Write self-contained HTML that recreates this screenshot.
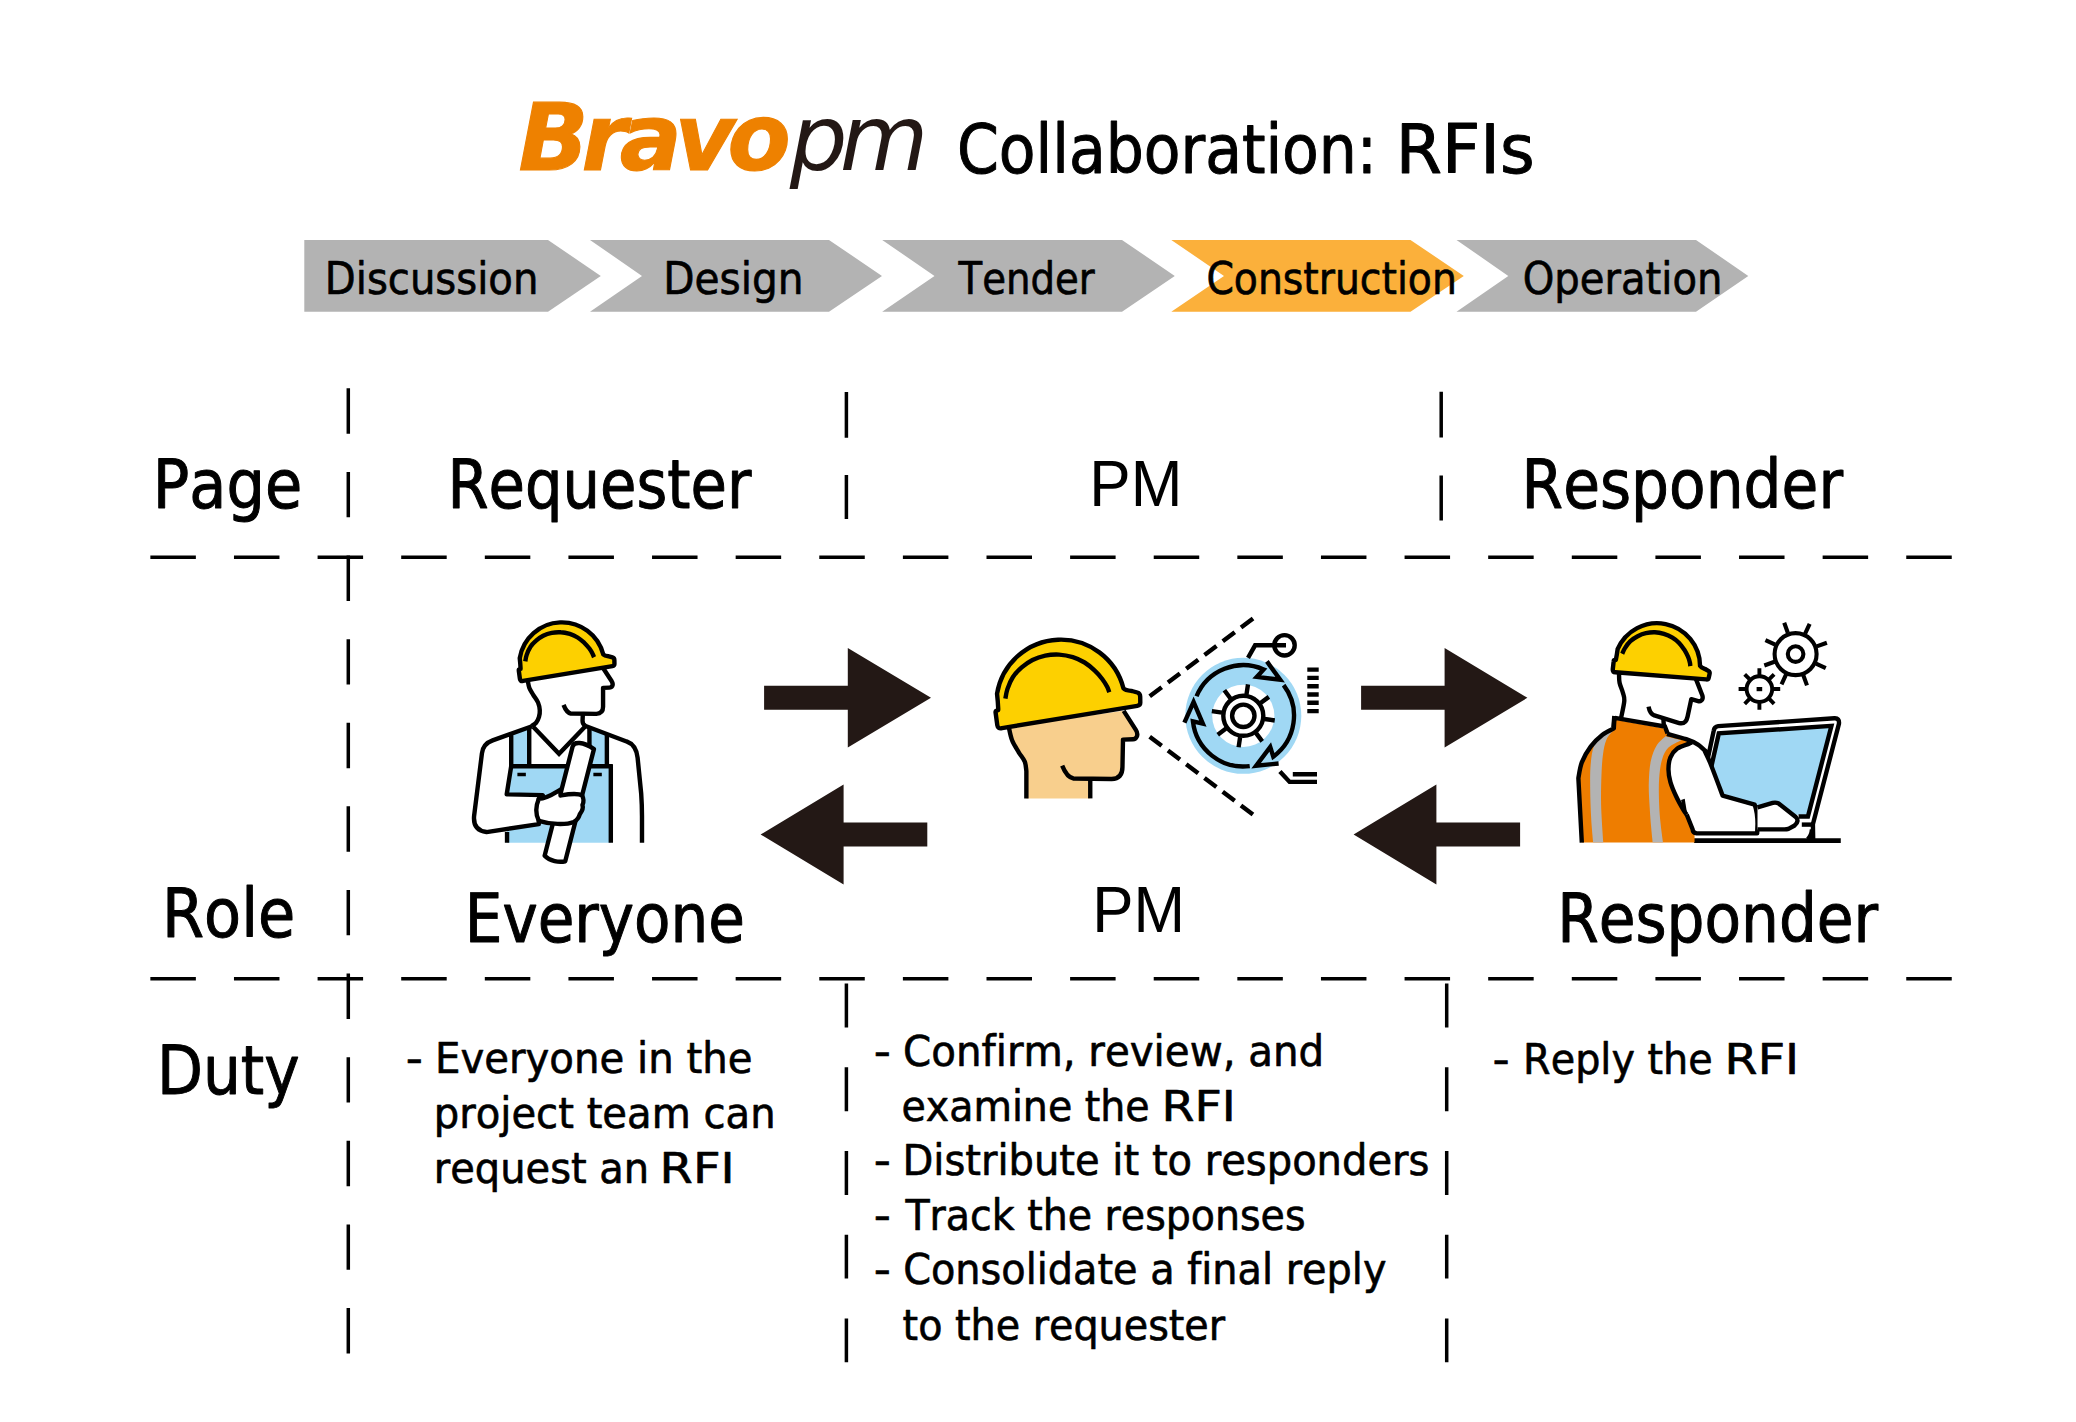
<!DOCTYPE html>
<html lang="en"><head><meta charset="utf-8"><title>Bravopm Collaboration: RFIs</title>
<style>
html,body{margin:0;padding:0;background:#fff;}
body{width:2076px;height:1422px;overflow:hidden;font-family:"DejaVu Sans Condensed","DejaVu Sans","Liberation Sans",sans-serif;}
svg{display:block}
text{font-kerning:none;white-space:pre;font-variant-ligatures:none}
</style></head><body>
<svg width="2076" height="1422" viewBox="0 0 2076 1422">
<rect width="2076" height="1422" fill="#fff"/>
<polygon points="304.30,240.00 548.00,240.00 600.80,275.90 548.00,311.80 304.30,311.80" fill="#b3b3b3"/>
<polygon points="590.00,240.00 829.00,240.00 882.00,275.90 829.00,311.80 590.00,311.80 642.00,275.90" fill="#b3b3b3"/>
<polygon points="882.20,240.00 1122.00,240.00 1174.80,275.90 1122.00,311.80 882.20,311.80 934.50,275.90" fill="#b3b3b3"/>
<polygon points="1456.50,240.00 1696.00,240.00 1748.30,275.90 1696.00,311.80 1456.50,311.80 1508.30,275.90" fill="#b3b3b3"/>
<polygon points="1171.30,240.00 1410.50,240.00 1463.80,275.90 1410.50,311.80 1171.30,311.80 1224.00,275.90" fill="#fbb03b"/>
<text x="324.80" y="294.30" font-family='"DejaVu Sans Condensed","DejaVu Sans","Liberation Sans",sans-serif' font-stretch="condensed" font-weight="normal" font-style="normal" font-size="44" textLength="213.60" lengthAdjust="spacingAndGlyphs" fill="#000" stroke="#000" stroke-width="0.62" stroke-linejoin="round">Discussion</text>
<text x="663.31" y="294.30" font-family='"DejaVu Sans Condensed","DejaVu Sans","Liberation Sans",sans-serif' font-stretch="condensed" font-weight="normal" font-style="normal" font-size="44" textLength="140.33" lengthAdjust="spacingAndGlyphs" fill="#000" stroke="#000" stroke-width="0.62" stroke-linejoin="round">Design</text>
<text x="958.58" y="294.30" font-family='"DejaVu Sans Condensed","DejaVu Sans","Liberation Sans",sans-serif' font-stretch="condensed" font-weight="normal" font-style="normal" font-size="44" textLength="136.15" lengthAdjust="spacingAndGlyphs" fill="#000" stroke="#000" stroke-width="0.62" stroke-linejoin="round">Tender</text>
<text x="1206.38" y="294.30" font-family='"DejaVu Sans Condensed","DejaVu Sans","Liberation Sans",sans-serif' font-stretch="condensed" font-weight="normal" font-style="normal" font-size="44" textLength="250.45" lengthAdjust="spacingAndGlyphs" fill="#000" stroke="#000" stroke-width="0.62" stroke-linejoin="round">Construction</text>
<text x="1522.74" y="294.30" font-family='"DejaVu Sans Condensed","DejaVu Sans","Liberation Sans",sans-serif' font-stretch="condensed" font-weight="normal" font-style="normal" font-size="44" textLength="199.66" lengthAdjust="spacingAndGlyphs" fill="#000" stroke="#000" stroke-width="0.62" stroke-linejoin="round">Operation</text>
<text x="518.47" y="169.80" font-family='"DejaVu Sans","Liberation Sans",sans-serif' font-weight="bold" font-style="oblique" font-size="92" letter-spacing="-7.10" fill="#ee8100" stroke="#ee8100" stroke-width="1.10">Bravo</text>
<text x="789.87" y="169.80" font-family='"DejaVu Sans","Liberation Sans",sans-serif' font-weight="normal" font-style="oblique" font-size="91" letter-spacing="-7.85" fill="#231815">pm</text>
<text x="956.91" y="172.70" font-family='"DejaVu Sans Condensed","DejaVu Sans","Liberation Sans",sans-serif' font-stretch="condensed" font-weight="normal" font-style="normal" font-size="67.5" textLength="420.19" lengthAdjust="spacingAndGlyphs" fill="#000" stroke="#000" stroke-width="0.95" stroke-linejoin="round">Collaboration:</text>
<text x="1395.86" y="172.70" font-family='"DejaVu Sans Condensed","DejaVu Sans","Liberation Sans",sans-serif' font-stretch="condensed" font-weight="normal" font-style="normal" font-size="67.5" textLength="138.79" lengthAdjust="spacingAndGlyphs" fill="#000" stroke="#000" stroke-width="0.95" stroke-linejoin="round">RFIs</text>
<path d="M150.36 557.2h45.5M233.97 557.2h45.5M317.59 557.2h45.5M401.20 557.2h45.5M484.82 557.2h45.5M568.43 557.2h45.5M652.04 557.2h45.5M735.66 557.2h45.5M819.27 557.2h45.5M902.89 557.2h45.5M986.50 557.2h45.5M1070.11 557.2h45.5M1153.73 557.2h45.5M1237.34 557.2h45.5M1320.96 557.2h45.5M1404.57 557.2h45.5M1488.18 557.2h45.5M1571.80 557.2h45.5M1655.41 557.2h45.5M1739.03 557.2h45.5M1822.64 557.2h45.5M1906.25 557.2h45.5" stroke="#000" stroke-width="3.5" fill="none"/>
<path d="M150.36 978.7h45.5M233.97 978.7h45.5M317.59 978.7h45.5M401.20 978.7h45.5M484.82 978.7h45.5M568.43 978.7h45.5M652.04 978.7h45.5M735.66 978.7h45.5M819.27 978.7h45.5M902.89 978.7h45.5M986.50 978.7h45.5M1070.11 978.7h45.5M1153.73 978.7h45.5M1237.34 978.7h45.5M1320.96 978.7h45.5M1404.57 978.7h45.5M1488.18 978.7h45.5M1571.80 978.7h45.5M1655.41 978.7h45.5M1739.03 978.7h45.5M1822.64 978.7h45.5M1906.25 978.7h45.5" stroke="#000" stroke-width="3.5" fill="none"/>
<path d="M348.3 388.30v45.4M348.3 471.91v45.4M348.3 555.52v45.4M348.3 639.13v45.4M348.3 722.74v45.4M348.3 806.35v45.4M348.3 889.96v45.4M348.3 973.57v45.4M348.3 1057.18v45.4M348.3 1140.79v45.4M348.3 1224.40v45.4M348.3 1308.01v45.4" stroke="#000" stroke-width="3.5" fill="none"/>
<path d="M846.4,392.1v45.7M846.4,474.9v44M1441.2,391.7v45.7M1441.2,475.4v45.1" stroke="#000" stroke-width="3.5" fill="none"/>
<path d="M846.4 983.60v43.9M846.4 1067.30v43.9M846.4 1151.00v43.9M846.4 1234.70v43.9M846.4 1318.40v43.9" stroke="#000" stroke-width="3.5" fill="none"/>
<path d="M1446.7 983.60v43.9M1446.7 1067.30v43.9M1446.7 1151.00v43.9M1446.7 1234.70v43.9M1446.7 1318.40v43.9" stroke="#000" stroke-width="3.5" fill="none"/>
<text x="152.80" y="508.00" font-family='"DejaVu Sans Condensed","DejaVu Sans","Liberation Sans",sans-serif' font-stretch="condensed" font-weight="normal" font-style="normal" font-size="67.5" textLength="149.42" lengthAdjust="spacingAndGlyphs" fill="#000" stroke="#000" stroke-width="0.95" stroke-linejoin="round">Page</text>
<text x="447.44" y="508.25" font-family='"DejaVu Sans Condensed","DejaVu Sans","Liberation Sans",sans-serif' font-stretch="condensed" font-weight="normal" font-style="normal" font-size="67.5" textLength="303.78" lengthAdjust="spacingAndGlyphs" fill="#000" stroke="#000" stroke-width="0.95" stroke-linejoin="round">Requester</text>
<text x="1089.31" y="505.90" font-family='"Liberation Sans",sans-serif' font-weight="normal" font-style="normal" font-size="65.5" textLength="93.08" lengthAdjust="spacingAndGlyphs" fill="#000">PM</text>
<text x="1521.62" y="508.30" font-family='"DejaVu Sans Condensed","DejaVu Sans","Liberation Sans",sans-serif' font-stretch="condensed" font-weight="normal" font-style="normal" font-size="67.5" textLength="321.34" lengthAdjust="spacingAndGlyphs" fill="#000" stroke="#000" stroke-width="0.95" stroke-linejoin="round">Responder</text>
<text x="162.05" y="937.30" font-family='"DejaVu Sans Condensed","DejaVu Sans","Liberation Sans",sans-serif' font-stretch="condensed" font-weight="normal" font-style="normal" font-size="67.5" textLength="133.17" lengthAdjust="spacingAndGlyphs" fill="#000" stroke="#000" stroke-width="0.95" stroke-linejoin="round">Role</text>
<text x="464.75" y="942.00" font-family='"DejaVu Sans Condensed","DejaVu Sans","Liberation Sans",sans-serif' font-stretch="condensed" font-weight="normal" font-style="normal" font-size="68.5" textLength="280.22" lengthAdjust="spacingAndGlyphs" fill="#000" stroke="#000" stroke-width="0.96" stroke-linejoin="round">Everyone</text>
<text x="1092.23" y="931.90" font-family='"Liberation Sans",sans-serif' font-weight="normal" font-style="normal" font-size="65.5" textLength="92.74" lengthAdjust="spacingAndGlyphs" fill="#000">PM</text>
<text x="1557.13" y="941.90" font-family='"DejaVu Sans Condensed","DejaVu Sans","Liberation Sans",sans-serif' font-stretch="condensed" font-weight="normal" font-style="normal" font-size="68.5" textLength="321.04" lengthAdjust="spacingAndGlyphs" fill="#000" stroke="#000" stroke-width="0.96" stroke-linejoin="round">Responder</text>
<text x="157.04" y="1093.70" font-family='"DejaVu Sans Condensed","DejaVu Sans","Liberation Sans",sans-serif' font-stretch="condensed" font-weight="normal" font-style="normal" font-size="68" textLength="142.51" lengthAdjust="spacingAndGlyphs" fill="#000" stroke="#000" stroke-width="0.95" stroke-linejoin="round">Duty</text>
<text x="405.68" y="1072.50" font-family='"DejaVu Sans Condensed","DejaVu Sans","Liberation Sans",sans-serif' font-stretch="condensed" font-weight="normal" font-style="normal" font-size="42" textLength="17.14" lengthAdjust="spacingAndGlyphs" fill="#000" stroke="#000" stroke-width="0.59" stroke-linejoin="round">-</text>
<text x="435.05" y="1072.50" font-family='"DejaVu Sans Condensed","DejaVu Sans","Liberation Sans",sans-serif' font-stretch="condensed" font-weight="normal" font-style="normal" font-size="42" textLength="317.39" lengthAdjust="spacingAndGlyphs" fill="#000" stroke="#000" stroke-width="0.59" stroke-linejoin="round">Everyone in the</text>
<text x="433.76" y="1127.50" font-family='"DejaVu Sans Condensed","DejaVu Sans","Liberation Sans",sans-serif' font-stretch="condensed" font-weight="normal" font-style="normal" font-size="42" textLength="341.83" lengthAdjust="spacingAndGlyphs" fill="#000" stroke="#000" stroke-width="0.59" stroke-linejoin="round">project team can</text>
<text x="433.78" y="1182.80" font-family='"DejaVu Sans Condensed","DejaVu Sans","Liberation Sans",sans-serif' font-stretch="condensed" font-weight="normal" font-style="normal" font-size="42" textLength="215.41" lengthAdjust="spacingAndGlyphs" fill="#000" stroke="#000" stroke-width="0.59" stroke-linejoin="round">request an</text>
<text x="659.58" y="1182.80" font-family='"DejaVu Sans Condensed","DejaVu Sans","Liberation Sans",sans-serif' font-stretch="condensed" font-weight="normal" font-style="normal" font-size="42" textLength="75.10" lengthAdjust="spacingAndGlyphs" fill="#000" stroke="#000" stroke-width="0.59" stroke-linejoin="round">RFI</text>
<text x="873.78" y="1065.50" font-family='"DejaVu Sans Condensed","DejaVu Sans","Liberation Sans",sans-serif' font-stretch="condensed" font-weight="normal" font-style="normal" font-size="42" textLength="17.14" lengthAdjust="spacingAndGlyphs" fill="#000" stroke="#000" stroke-width="0.59" stroke-linejoin="round">-</text>
<text x="903.12" y="1065.50" font-family='"DejaVu Sans Condensed","DejaVu Sans","Liberation Sans",sans-serif' font-stretch="condensed" font-weight="normal" font-style="normal" font-size="42" textLength="421.03" lengthAdjust="spacingAndGlyphs" fill="#000" stroke="#000" stroke-width="0.59" stroke-linejoin="round">Confirm, review, and</text>
<text x="901.51" y="1120.80" font-family='"DejaVu Sans Condensed","DejaVu Sans","Liberation Sans",sans-serif' font-stretch="condensed" font-weight="normal" font-style="normal" font-size="42" textLength="248.09" lengthAdjust="spacingAndGlyphs" fill="#000" stroke="#000" stroke-width="0.59" stroke-linejoin="round">examine the</text>
<text x="1161.43" y="1120.80" font-family='"DejaVu Sans Condensed","DejaVu Sans","Liberation Sans",sans-serif' font-stretch="condensed" font-weight="normal" font-style="normal" font-size="42" textLength="74.42" lengthAdjust="spacingAndGlyphs" fill="#000" stroke="#000" stroke-width="0.59" stroke-linejoin="round">RFI</text>
<text x="873.78" y="1175.10" font-family='"DejaVu Sans Condensed","DejaVu Sans","Liberation Sans",sans-serif' font-stretch="condensed" font-weight="normal" font-style="normal" font-size="42" textLength="17.14" lengthAdjust="spacingAndGlyphs" fill="#000" stroke="#000" stroke-width="0.59" stroke-linejoin="round">-</text>
<text x="902.47" y="1175.10" font-family='"DejaVu Sans Condensed","DejaVu Sans","Liberation Sans",sans-serif' font-stretch="condensed" font-weight="normal" font-style="normal" font-size="42" textLength="526.89" lengthAdjust="spacingAndGlyphs" fill="#000" stroke="#000" stroke-width="0.59" stroke-linejoin="round">Distribute it to responders</text>
<text x="873.78" y="1229.70" font-family='"DejaVu Sans Condensed","DejaVu Sans","Liberation Sans",sans-serif' font-stretch="condensed" font-weight="normal" font-style="normal" font-size="42" textLength="17.14" lengthAdjust="spacingAndGlyphs" fill="#000" stroke="#000" stroke-width="0.59" stroke-linejoin="round">-</text>
<text x="905.49" y="1229.70" font-family='"DejaVu Sans Condensed","DejaVu Sans","Liberation Sans",sans-serif' font-stretch="condensed" font-weight="normal" font-style="normal" font-size="42" textLength="400.04" lengthAdjust="spacingAndGlyphs" fill="#000" stroke="#000" stroke-width="0.59" stroke-linejoin="round">Track the responses</text>
<text x="873.78" y="1284.40" font-family='"DejaVu Sans Condensed","DejaVu Sans","Liberation Sans",sans-serif' font-stretch="condensed" font-weight="normal" font-style="normal" font-size="42" textLength="17.14" lengthAdjust="spacingAndGlyphs" fill="#000" stroke="#000" stroke-width="0.59" stroke-linejoin="round">-</text>
<text x="903.15" y="1284.40" font-family='"DejaVu Sans Condensed","DejaVu Sans","Liberation Sans",sans-serif' font-stretch="condensed" font-weight="normal" font-style="normal" font-size="42" textLength="483.31" lengthAdjust="spacingAndGlyphs" fill="#000" stroke="#000" stroke-width="0.59" stroke-linejoin="round">Consolidate a final reply</text>
<text x="902.62" y="1340.00" font-family='"DejaVu Sans Condensed","DejaVu Sans","Liberation Sans",sans-serif' font-stretch="condensed" font-weight="normal" font-style="normal" font-size="42" textLength="322.45" lengthAdjust="spacingAndGlyphs" fill="#000" stroke="#000" stroke-width="0.59" stroke-linejoin="round">to the requester</text>
<text x="1492.58" y="1073.70" font-family='"DejaVu Sans Condensed","DejaVu Sans","Liberation Sans",sans-serif' font-stretch="condensed" font-weight="normal" font-style="normal" font-size="42" textLength="17.14" lengthAdjust="spacingAndGlyphs" fill="#000" stroke="#000" stroke-width="0.59" stroke-linejoin="round">-</text>
<text x="1523.10" y="1073.70" font-family='"DejaVu Sans Condensed","DejaVu Sans","Liberation Sans",sans-serif' font-stretch="condensed" font-weight="normal" font-style="normal" font-size="42" textLength="189.62" lengthAdjust="spacingAndGlyphs" fill="#000" stroke="#000" stroke-width="0.59" stroke-linejoin="round">Reply the</text>
<text x="1724.63" y="1073.70" font-family='"DejaVu Sans Condensed","DejaVu Sans","Liberation Sans",sans-serif' font-stretch="condensed" font-weight="normal" font-style="normal" font-size="42" textLength="74.42" lengthAdjust="spacingAndGlyphs" fill="#000" stroke="#000" stroke-width="0.59" stroke-linejoin="round">RFI</text>
<polygon points="764.1,685.75 847.8,685.75 847.8,648.0 931,697.8 847.8,747.5999999999999 847.8,709.8499999999999 764.1,709.8499999999999" fill="#231815"/>
<polygon points="927.3,822.45 843.6,822.45 843.6,784.4 760.6,834.5 843.6,884.6 843.6,846.55 927.3,846.55" fill="#231815"/>
<polygon points="1361.1,685.75 1444.6,685.75 1444.6,648.0 1527.4,697.8 1444.6,747.5999999999999 1444.6,709.8499999999999 1361.1,709.8499999999999" fill="#231815"/>
<polygon points="1520.1,822.45 1436.4,822.45 1436.4,784.4 1353.6,834.5 1436.4,884.6 1436.4,846.55 1520.1,846.55" fill="#231815"/>
<g transform="translate(460,715) scale(0.112549)" stroke-width="39.1" stroke-linejoin="round" stroke-linecap="butt" fill="none" stroke="none">
<path d="M455,166 L615,109 L615,455 L455,455Z M1150,110 L1305,169 L1305,455 L1150,455Z" fill="#a0d8f4" stroke="none"/>
<path d="M455,455 L1340,455 L1340,1135 L418,1135 L418,705Z" fill="#a0d8f4" stroke="none"/>
<path d="M615,112 L615,455 M1150,112 L1150,455 M1305,170 L1305,455 M440,455 L1357,455 M1340,440 L1340,1135 M418,1040 L418,1135" fill="none" stroke="#000"/>
<path d="M510,528 H585 M1185,528 H1260" fill="none" stroke="#000" stroke-width="30.2"/>
<path d="M640,100 L290,225 Q205,255 195,340 L125,900 Q115,1025 235,1040 L700,970 L700,745 L735,712 L415,705 L455,455 L455,168" fill="#fff" stroke="#000"/>
<path d="M1110,95 L1480,235 Q1565,265 1578,380 L1610,700 Q1617,800 1617,900 L1617,1135" fill="none" stroke="#000"/>
<path d="M650,105 L880,345 L1110,105" fill="none" stroke="#000" stroke-linejoin="miter"/>
<path d="M1000,282 C1012,235 1090,235 1190,303 L935,1300 C880,1312 800,1300 752,1250 Z" fill="#fff" stroke="#000"/>
<path d="M700,745 C780,742 830,700 893,663 L893,715 C950,705 1040,688 1085,715 Q1108,760 1088,800 Q1100,835 1065,880 Q1050,930 1010,950 C940,978 800,972 700,940 Q655,850 700,745 Z" fill="#fff" stroke="#000"/>
</g>
<g transform="translate(460,610) scale(0.096339)" stroke-width="45.7" stroke-linejoin="round" stroke-linecap="butt" fill="none" stroke="none">
<path d="M700.0,690.0C700.8,698.3 701.7,720.0 705.0,740.0 C708.3,760.0 710.8,786.7 720.0,810.0 C729.2,833.3 745.0,855.0 760.0,880.0 C775.0,905.0 798.7,933.3 810.0,960.0 C821.3,986.7 826.3,1015.0 828.0,1040.0 C829.7,1065.0 826.3,1088.3 820.0,1110.0 C813.7,1131.7 803.0,1154.5 790.0,1170.0 C777.0,1185.5 750.0,1197.5 742.0,1203.0" fill="none" stroke="#000"/>
<path d="M1457,560 L1490,610 L1575,740 Q1592,768 1580,790 Q1572,806 1550,806 L1485,808 L1485,1005 Q1485,1075 1415,1078 L1150,1075 C1110,1066 1092,1030 1075,985" fill="none" stroke="#000"/>
<path d="M1275,1080 L1272,1150 Q1272,1188 1302,1202" fill="none" stroke="#000"/>
</g>
<path d="M523.03,680.86Q520.32,681.65 519.93,678.94L518.80,670.61Q518.60,669.36 519.99,669.09L520.52,668.96L520.52,667.84C520.39,664.27 519.99,660.30 519.75,658.15A42.72,42.72 0 0 1 603.30,654.55C604.67,656.00 606.32,656.07 608.90,656.34L612.47,657.33Q614.45,657.86 614.38,660.30L614.45,664.13Q614.45,665.79 612.47,666.12Z" fill="#fdd000" stroke="#000" stroke-width="4.4" stroke-linejoin="round"/>
<path d="M525.3,661.4C525.5,660.3 525.8,657.4 526.6,655.1 C527.4,652.7 528.6,649.6 530.2,647.2 C531.7,644.8 533.9,642.6 536.1,640.7 C538.2,638.8 540.6,637.1 543.2,635.8 C545.8,634.5 548.7,633.5 551.7,632.9 C554.6,632.3 557.7,632.1 560.8,632.3 C563.8,632.4 567.0,633.1 569.8,633.9 C572.6,634.8 575.2,636.0 577.6,637.5 C580.0,639.0 582.2,640.9 584.2,642.7 C586.1,644.6 588.0,646.7 589.4,648.5 C590.8,650.4 591.9,652.3 592.6,653.8 C593.4,655.2 593.7,656.6 594.0,657.2" fill="none" stroke="#000" stroke-width="4.4"/>
<g transform="translate(460,610) scale(0.096339)" stroke-width="45.7" stroke-linejoin="round" stroke-linecap="butt" fill="none" stroke="none">
</g>
<g transform="translate(980,620) scale(0.133636)" stroke-width="32.9" stroke-linejoin="round" stroke-linecap="butt" fill="none" stroke="none">
<path d="M215.0,800.0C219.2,816.7 227.5,868.3 240.0,900.0 C252.5,931.7 274.2,963.3 290.0,990.0 C305.8,1016.7 325.5,1036.7 335.0,1060.0 C344.5,1083.3 345.0,1118.3 347.0,1130.0L347,1335 L825,1335 L825,1190 L985,1190 Q1066,1188 1066,1100 L1070,895 L1145,892 Q1165,892 1172,875 Q1185,850 1165,820 L1075,680 Z" fill="#f8cf8d" stroke="none"/>
<path d="M215.0,800.0C219.2,816.7 227.5,868.3 240.0,900.0 C252.5,931.7 274.2,963.3 290.0,990.0 C305.8,1016.7 325.5,1036.7 335.0,1060.0 C344.5,1083.3 345.0,1118.3 347.0,1130.0L347,1335" fill="none" stroke="#000"/>
<path d="M1075,680 L1165,820 Q1185,850 1172,875 Q1165,892 1145,892 L1070,895 L1066,1100 Q1066,1188 985,1190 L700,1186 C660,1180 635,1140 615,1090" fill="none" stroke="#000"/>
<path d="M825,1188 L825,1335" fill="none" stroke="#000"/>
</g>
<path d="M1002.00,728.10Q997.90,729.30 997.30,725.20L995.60,712.60Q995.30,710.70 997.40,710.30L998.20,710.10L998.20,708.40C998.00,703.00 997.40,697.00 997.03,693.75A64.63,64.63 0 0 1 1123.43,688.30C1125.50,690.50 1128.00,690.60 1131.90,691.00L1137.30,692.50Q1140.30,693.30 1140.20,697.00L1140.30,702.80Q1140.30,705.30 1137.30,705.80Z" fill="#fdd000" stroke="#000" stroke-width="4.4" stroke-linejoin="round"/>
<path d="M1005.4,698.6C1005.7,697.0 1006.2,692.7 1007.4,689.1 C1008.6,685.5 1010.4,680.8 1012.8,677.2 C1015.2,673.6 1018.4,670.3 1021.7,667.4 C1025.0,664.5 1028.6,662.0 1032.5,660.0 C1036.4,658.0 1040.9,656.5 1045.3,655.6 C1049.7,654.7 1054.5,654.4 1059.1,654.6 C1063.7,654.9 1068.5,655.8 1072.8,657.1 C1077.0,658.4 1081.0,660.3 1084.6,662.5 C1088.2,664.7 1091.5,667.6 1094.5,670.4 C1097.5,673.2 1100.3,676.4 1102.4,679.2 C1104.5,682.0 1106.2,684.9 1107.3,687.1 C1108.4,689.3 1109.0,691.4 1109.3,692.3" fill="none" stroke="#000" stroke-width="4.4"/>
<g transform="translate(980,620) scale(0.133636)" stroke-width="32.9" stroke-linejoin="round" stroke-linecap="butt" fill="none" stroke="none">
</g>
<g transform="translate(1243.3,715.8)" fill="none" stroke="#000" stroke-width="4.4" stroke-linejoin="miter">
<circle r="58" fill="#a0d8f4" stroke="none"/>
<circle r="31.1" fill="#fff" stroke="none"/>
<circle r="11.2"/><circle r="20"/>
<path d="M3.18,-21.26L4.70,-31.45M17.28,-12.79L25.56,-18.92M21.26,3.18L31.45,4.70M12.79,17.28L18.92,25.56M-3.18,21.26L-4.70,31.45M-17.28,12.79L-25.56,18.92M-21.26,-3.18L-31.45,-4.70M-12.79,-17.28L-18.92,-25.56"/>
<path d="M-46.77,-19.57 A50.7,50.7 0 0 1 20.4,-46.4 L13.5,-38.9 L36.9,-36.1 L23.6,-54.4" transform="rotate(0)"/>
<path d="M-46.77,-19.57 A50.7,50.7 0 0 1 20.4,-46.4 L13.5,-38.9 L36.9,-36.1 L23.6,-54.4" transform="rotate(120)"/>
<path d="M-46.77,-19.57 A50.7,50.7 0 0 1 20.4,-46.4 L13.5,-38.9 L36.9,-36.1 L23.6,-54.4" transform="rotate(240)"/>
</g>
<path d="M1149.7,696.2 L1253.5,618.2 M1149.7,736.8 L1253.5,815" stroke="#000" stroke-width="4.4" stroke-dasharray="15 7.85" fill="none"/>
<g fill="none" stroke="#000" stroke-width="4.4">
<path d="M1248,657.9 L1255.1,645.3 L1286,645.3"/><circle cx="1284.5" cy="645.3" r="10.2"/>
<path d="M1307.3,669.60H1318.7M1307.3,677.90H1318.7M1307.3,686.20H1318.7M1307.3,694.50H1318.7M1307.3,702.80H1318.7M1307.3,711.10H1318.7"/>
<path d="M1279.9,771.4 L1289.6,781.9 L1317,781.9 M1292.8,774.3 H1317"/>
</g>
<g transform="translate(1690,700) scale(0.112518)" stroke-width="39.1" stroke-linejoin="round" stroke-linecap="butt" fill="none" stroke="none">
<path d="M258,300 L1240,240 L1040,1020 L940,1020 L780,905 L600,940 L295,830 L196,560Z" fill="#a0d8f4" stroke="none"/>
<path d="M139,610 L211,272 Q216,236 250,232 L1284,162.6 Q1329,160 1324,210 L1092.3,1104.7 L1095,1250" fill="none" stroke="#000"/>
<path d="M188,600 L256,297 L1257,230 L1048,1035 L965,1035" fill="none" stroke="#000" stroke-linejoin="miter"/>
<path d="M993.6,1107.4 H1092" fill="none" stroke="#000"/>
<path d="M1084,1150 Q1080,1205 1046,1238" fill="none" stroke="#000"/>
<path d="M35,1249.6 H1340" fill="none" stroke="#000" stroke-width="40.5"/>
</g>
<g transform="translate(1570,720) scale(0.098464)" stroke-width="44.7" stroke-linejoin="round" stroke-linecap="butt" fill="none" stroke="none">
<path d="M450,-5 L445,85 C425.8,95.8 369.2,119.2 330.0,150.0 C290.8,180.8 245.0,223.3 210.0,270.0 C175.0,316.7 140.8,376.7 120.0,430.0 C99.2,483.3 90.8,563.3 85.0,590.0 L120,1245 L1265,1245 L1265,1165 L1245,1110 L1185,960 C1179.2,951.7 1167.5,940.0 1150.0,910.0 C1132.5,880.0 1101.7,826.7 1080.0,780.0 C1058.3,733.3 1033.3,676.7 1020.0,630.0 C1006.7,583.3 1000.0,541.7 1000.0,500.0 C1000.0,458.3 1005.0,415.0 1020.0,380.0 C1035.0,345.0 1058.3,313.3 1090.0,290.0 C1121.7,266.7 1185.3,250.0 1210.0,240.0 C1234.7,230.0 1233.3,231.7 1238.0,230.0 L985,140 L950,85 Z" fill="#ee7d00" stroke="none"/>
<path d="M445.0,88.0C425.8,98.3 363.3,121.3 330.0,150.0 C296.7,178.7 265.0,210.0 245.0,260.0 C225.0,310.0 216.7,376.7 210.0,450.0 C203.3,523.3 204.2,608.3 205.0,700.0 C205.8,791.7 210.0,909.2 215.0,1000.0 C220.0,1090.8 231.7,1204.2 235.0,1245.0L338.0,1245.0C335.3,1204.2 325.8,1074.2 322.0,1000.0 C318.2,925.8 315.3,875.0 315.0,800.0 C314.7,725.0 316.7,625.0 320.0,550.0 C323.3,475.0 326.7,408.3 335.0,350.0 C343.3,291.7 351.7,241.7 370.0,200.0 C388.3,158.3 432.5,116.7 445.0,100.0Z" fill="#b3b3b3" stroke="none"/>
<path d="M970.0,165.0C955.0,180.8 905.0,217.5 880.0,260.0 C855.0,302.5 833.3,355.0 820.0,420.0 C806.7,485.0 801.7,570.0 800.0,650.0 C798.3,730.0 805.8,825.0 810.0,900.0 C814.2,975.0 820.0,1042.5 825.0,1100.0 C830.0,1157.5 837.5,1220.8 840.0,1245.0L945.0,1245.0C940.8,1212.5 926.7,1115.8 920.0,1050.0 C913.3,984.2 907.5,925.0 905.0,850.0 C902.5,775.0 900.0,675.0 905.0,600.0 C910.0,525.0 919.2,453.3 935.0,400.0 C950.8,346.7 967.5,312.5 1000.0,280.0 C1032.5,247.5 1108.3,217.5 1130.0,205.0Z" fill="#b3b3b3" stroke="none"/>
</g>
<g transform="translate(1690,700) scale(0.112518)" stroke-width="39.1" stroke-linejoin="round" stroke-linecap="butt" fill="none" stroke="none">
<path d="M-204.5,300.3C-176.1,308.3 -79.8,332.4 -33.9,348.4 C12.1,364.4 39.0,375.4 71.1,396.5 C103.2,417.7 148.8,466.4 158.6,475.3 C168.4,484.2 126.4,435.9 130.0,450.0 C133.6,464.1 153.3,493.3 180.0,560.0 C206.7,626.7 271.7,801.7 290.0,850.0 L575,930 Q600,1000 600,1100 L597,1185 L60,1185 Q25,1180 23.0,1149.1 L-29.5,1017.8 C-34.6,1010.6 -44.8,1000.3 -60.1,974.1 C-75.5,947.8 -102.4,901.2 -121.4,860.3 C-140.4,819.5 -162.2,769.9 -173.9,729.1 C-185.6,688.2 -191.4,651.8 -191.4,615.3 C-191.4,578.8 -187.0,540.9 -173.9,510.3 C-160.8,479.7 -140.4,451.9 -112.6,431.5 C-84.9,411.1 -29.2,396.5 -7.6,387.8 C14.0,379.0 12.8,380.5 16.9,379.0Z" fill="#fff" stroke="none"/>
<path d="M-204.5,300.3C-176.1,308.3 -79.8,332.4 -33.9,348.4 C12.1,364.4 39.0,375.4 71.1,396.5 C103.2,417.7 148.8,466.4 158.6,475.3 C168.4,484.2 126.4,435.9 130.0,450.0 C133.6,464.1 153.3,493.3 180.0,560.0 C206.7,626.7 271.7,801.7 290.0,850.0 L575,930 Q600,1000 600,1100 L597,1185 L60,1185 Q25,1180 23.0,1149.1 L-29.5,1017.8" fill="none" stroke="#000"/>
<path d="M16.9,379.0C12.8,380.5 14.0,379.0 -7.6,387.8 C-29.2,396.5 -84.9,411.1 -112.6,431.5 C-140.4,451.9 -160.8,479.7 -173.9,510.3 C-187.0,540.9 -191.4,578.8 -191.4,615.3 C-191.4,651.8 -185.6,688.2 -173.9,729.1 C-162.2,769.9 -140.4,819.5 -121.4,860.3 C-102.4,901.2 -75.5,947.8 -60.1,974.1 C-44.8,1000.3 -34.6,1010.6 -29.5,1017.8" fill="none" stroke="#000"/>
<path d="M-79.4,888.3L-47.0,877.8 L-23.4,1022.2 L-60.1,975.8Z" fill="#000" stroke="none"/>
<path d="M600,955 L735,915 Q760,908 785,918 L940,1040 Q975,1075 930,1115 L875,1145 Q860,1150 840,1150 L600,1150" fill="#fff" stroke="#000"/>
</g>
<g transform="translate(1570,720) scale(0.098464)" stroke-width="44.7" stroke-linejoin="round" stroke-linecap="butt" fill="none" stroke="none">
<path d="M450,-5 L445,85 C425.8,95.8 369.2,119.2 330.0,150.0 C290.8,180.8 245.0,223.3 210.0,270.0 C175.0,316.7 140.8,376.7 120.0,430.0 C99.2,483.3 90.8,563.3 85.0,590.0 L120,1245" fill="none" stroke="#000"/>
<path d="M1265,1165 L1265,1245" fill="none" stroke="none"/>
</g>
<g transform="translate(1570,610) scale(0.105474)" stroke-width="41.7" stroke-linejoin="round" stroke-linecap="butt" fill="none" stroke="none">
<path d="M465.0,560.0C465.0,568.3 464.2,588.3 465.0,610.0 C465.8,631.7 464.2,661.7 470.0,690.0 C475.8,718.3 492.5,751.7 500.0,780.0 C507.5,808.3 517.5,820.0 515.0,860.0 C512.5,900.0 490.0,993.3 485.0,1020.0" fill="none" stroke="#000"/>
<path d="M1180,620 L1200,670 L1255,810 Q1265,845 1245,858 Q1232,868 1215,863 L1150,845 L1115,1010 Q1100,1085 1035,1072 L800,1000 C765,985 752,955 745,915" fill="none" stroke="#000"/>
<path d="M885,1030 L890,1100" fill="none" stroke="#000"/>
<path d="M420,1005 L412,1110 M425,1022 L900,1105 L925,1170" fill="none" stroke="#000" stroke-linejoin="miter"/>
</g>
<path d="M1615.33,672.20Q1612.50,672.32 1612.76,669.57L1613.68,661.17Q1613.79,659.89 1615.21,659.97L1615.76,659.97L1616.03,658.87C1616.76,655.35 1617.33,651.39 1617.61,649.23A42.98,42.98 0 0 1 1700.08,665.90C1701.06,667.65 1702.66,668.12 1705.12,669.00L1708.36,670.83Q1710.17,671.83 1709.51,674.20L1708.65,677.96Q1708.25,679.57 1706.24,679.42Z" fill="#fdd000" stroke="#000" stroke-width="4.4" stroke-linejoin="round"/>
<path d="M1622.2,653.7C1622.7,652.7 1623.7,650.0 1625.1,647.9 C1626.4,645.8 1628.3,643.0 1630.4,641.1 C1632.6,639.1 1635.2,637.5 1637.7,636.2 C1640.3,634.8 1643.0,633.7 1645.9,633.1 C1648.8,632.5 1651.9,632.2 1654.9,632.3 C1657.9,632.4 1661.0,633.0 1663.9,633.9 C1666.9,634.8 1669.8,636.1 1672.4,637.7 C1674.9,639.2 1677.2,641.0 1679.1,643.0 C1681.1,645.1 1682.8,647.5 1684.3,649.7 C1685.7,652.0 1687.0,654.5 1688.0,656.7 C1688.9,658.8 1689.5,661.0 1689.9,662.6 C1690.3,664.1 1690.2,665.6 1690.3,666.2" fill="none" stroke="#000" stroke-width="4.4"/>
<g transform="translate(1570,610) scale(0.105474)" stroke-width="41.7" stroke-linejoin="round" stroke-linecap="butt" fill="none" stroke="none">
</g>
<g fill="none" stroke="#000" stroke-width="4.1">
<circle cx="1795.6" cy="654.1" r="21"/><circle cx="1795.6" cy="654.1" r="7.8"/>
<path d="M1805.11,633.71L1809.67,623.92M1816.74,646.40L1826.89,642.71M1815.99,663.61L1825.78,668.17M1803.30,675.24L1806.99,685.39M1786.09,674.49L1781.53,684.28M1774.46,661.80L1764.31,665.49M1775.21,644.59L1765.42,640.03M1787.90,632.96L1784.21,622.81"/>
<circle cx="1759.4" cy="689.07" r="12.8" stroke-width="3.9"/>
<path d="M1759.40,675.07L1759.40,668.27M1769.30,679.17L1774.11,674.36M1773.40,689.07L1780.20,689.07M1769.30,698.97L1774.11,703.78M1759.40,703.07L1759.40,709.87M1749.50,698.97L1744.69,703.78M1745.40,689.07L1738.60,689.07M1749.50,679.17L1744.69,674.36" stroke-width="3.9"/>
<rect x="1756.6" y="687" width="5.6" height="4.2" fill="#000" stroke="none"/>
</g>
</svg>
</body></html>
